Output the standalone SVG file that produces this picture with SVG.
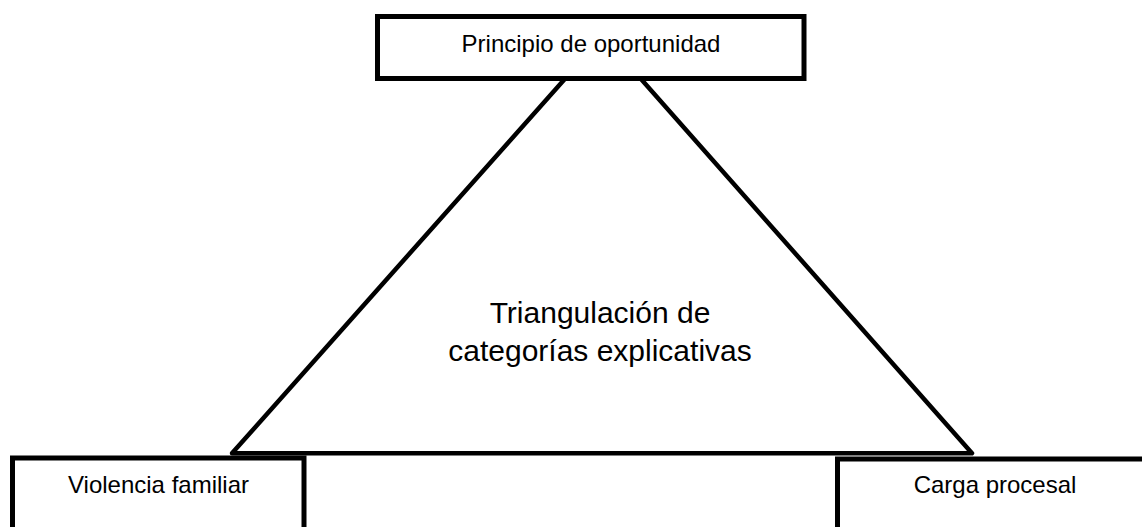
<svg xmlns="http://www.w3.org/2000/svg" width="1142" height="527" viewBox="0 0 1142 527">
  <style>
    .box { fill: #ffffff; stroke: #000000; stroke-width: 5; }
    .edge { fill: none; stroke: #000000; stroke-width: 4.5; stroke-linejoin: round; }
    .lbl { font-family: "Liberation Sans", Arial, sans-serif; font-size: 24px; fill: #000000; text-anchor: middle; }
    .main { font-family: "Liberation Sans", Arial, sans-serif; font-size: 30px; fill: #000000; text-anchor: middle; }
  </style>
  <rect x="0" y="0" width="1142" height="527" fill="#ffffff"/>
  <g id="connectors">
    <path class="edge" d="M232,453.3 L603,36 L972,453.3 Z"/>
  </g>
  <g id="center">
    <text class="main" x="600" y="323">Triangulación de</text>
    <text class="main" x="600" y="361">categorías explicativas</text>
  </g>
  <g id="node-principio">
    <rect class="box" x="377.5" y="16.5" width="426.5" height="62"/>
    <text class="lbl" x="591" y="52">Principio de oportunidad</text>
  </g>
  <g id="node-violencia">
    <rect class="box" x="12.5" y="458" width="291.5" height="90"/>
    <text class="lbl" x="158.5" y="493">Violencia familiar</text>
  </g>
  <g id="node-carga">
    <rect class="box" x="837.5" y="459" width="320" height="90"/>
    <text class="lbl" x="995" y="493">Carga procesal</text>
  </g>
</svg>
